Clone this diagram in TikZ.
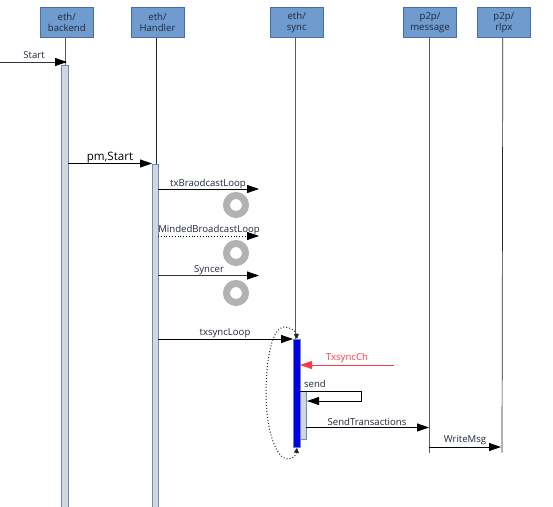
\documentclass[tikz,border=0pt]{standalone}
\usepackage{fontspec}
\setmainfont{Open Sans}
\usetikzlibrary{arrows.meta,positioning,calc}
\definecolor{boxA}{RGB}{112,155,207}
\definecolor{boxB}{RGB}{68,112,170}
\definecolor{barA}{RGB}{212,214,218}
\definecolor{barB}{RGB}{105,140,195}
\definecolor{syncA}{RGB}{0,0,225}
\definecolor{ringA}{RGB}{178,178,178}
\definecolor{redA}{RGB}{250,60,70}
\definecolor{textA}{RGB}{30,40,60}
\tikzset{
	pkgbox/.style={draw=boxB,fill=boxA,line width=0.9pt,minimum width=53pt,minimum height=30pt,inner sep=0pt,align=center,font=\fontsize{9.6}{10.5}\selectfont,text=textA},
	barbox/.style={draw=barB,fill=barA,line width=0.8pt,minimum width=6.4pt,inner sep=0pt,anchor=north},
	msgline/.style={line width=0.8pt,-{Triangle[length=12pt,width=8pt,black]}},
	msgtag/.style={inner sep=0pt,font=\fontsize{9.6}{11}\selectfont,text=textA},
	ringmark/.style={circle,draw=ringA,line width=7pt,minimum size=19pt,inner sep=0pt},
}
\newcommand{\pkgnode}[3]{\node[pkgbox] (#1) at (#2,22.5) {#3};}
\newcommand{\msgtext}[3]{\node[msgtag] (#1) at #2 {#3};}

\begin{document}
\begin{tikzpicture}[x=1pt,y=-1pt]
		\useasboundingbox (0,0) rectangle (553,506);
		\pkgnode{backend}{66.8}{eth/\\backend} \pkgnode{handler}{157.5}{eth/\\Handler} \pkgnode{sync}{296.7}{eth/\\sync}
		\pkgnode{message}{430}{p2p/\\message} \pkgnode{rlpx}{503.8}{p2p/\\rlpx}
		% activation bars
		\node[barbox,minimum height=450pt] (backendbar) at (65,64.5) {};
		\node[barbox,minimum height=350pt] (handlerbar) at (155.5,164) {};
		\node[barbox,minimum height=48pt] (sendbar) at (303,391) {};
		\node[barbox,fill=syncA,minimum height=108pt] (syncbar) at (297,339) {};
		% lifelines
		\coordinate (messageend) at (429,452.7);
		\coordinate (rlpxend) at (502,452.7);
		\draw[black!65,line width=0.8pt] ([xshift=-1pt]backend.south) -- ([xshift=-1pt]backend.south |- backendbar.north);
		\draw[black!85,line width=0.7pt] ([xshift=-1pt]handler.south) -- ([xshift=-1pt]handler.south |- handlerbar.north);
		\draw[black!65,line width=0.8pt] ([xshift=-1pt]sync.south) -- ([xshift=-1pt]sync.south |- syncbar.north);
		\draw[black!65,line width=0.8pt] ([xshift=-1pt]message.south) -- (messageend);
		\draw[black!85,line width=0.7pt] ([xshift=-1pt]rlpx.south) -- (rlpxend);
		% messages
		\coordinate (startfrom) at (0,62);
		\coordinate (startto) at (67,62);
		\draw[msgline,black!80] (startfrom) -- (startto);
		\msgtext{starttag}{(34,55)}{Start}
		\coordinate (pmfrom) at (68,163.5);
		\coordinate (pmto) at (152,163.5);
		\draw[msgline] (pmfrom) -- (pmto);
		\node[msgtag,font=\fontsize{11.6}{12}\selectfont,text=black] (pmtag) at (110,157.5) {pm,Start};
		\coordinate (txfrom) at (158,189);
		\coordinate (txto) at (259,189);
		\draw[msgline] (txfrom) -- (txto);
		\msgtext{txtag}{(208,184)}{txBraodcastLoop}
		\node[ringmark] (ringa) at (236,205) {};
		\coordinate (mindfrom) at (158,236);
		\coordinate (mindto) at (259,236);
		\draw[msgline,dotted] (mindfrom) -- (mindto);
		\msgtext{mindtag}{(209,230)}{MindedBroadcastLoop}
		\node[ringmark] (ringb) at (236,253) {};
		\coordinate (syncerfrom) at (158,275.5);
		\coordinate (syncerto) at (259,275.5);
		\draw[msgline,black!80] (syncerfrom) -- (syncerto);
		\msgtext{syncertag}{(209,270)}{Syncer}
		\node[ringmark] (ringc) at (236,293) {};
		\coordinate (loopfrom) at (158,339);
		\coordinate (loopto) at (293,339);
		\draw[msgline] (loopfrom) -- (loopto);
		\msgtext{looptag}{(225,333)}{txsyncLoop}
		% dotted loop round the sync bar
		\draw[black!85,dotted,line width=1pt,{Triangle[length=5pt,width=5pt]}-{Triangle[length=5pt,width=5pt]}] (syncbar.north) .. controls (296,331) and (290,327) .. (284,327) .. controls (272,327) and (266,360) .. (266,393) .. controls (266,430) and (276,459) .. (288,459) .. controls (292,459) and (296,456) .. (syncbar.south);
		% channel
		\coordinate (chanfrom) at (394,365);
		\coordinate (chanto) at (300,365);
		\draw[line width=0.8pt,redA,-{Triangle[length=12pt,width=8pt]}] (chanfrom) -- (chanto);
		\node[msgtag,text=redA] (chantag) at (347,358) {TxsyncCh};
		% send to itself
		\coordinate (sendfrom) at (300,391);
		\coordinate (sendto) at (307,401);
		\draw[msgline] (sendfrom) -- (361,391) -- (361,401) -- (sendto);
		\msgtext{sendtag}{(315,384)}{send}
		\coordinate (transfrom) at (306,427.5);
		\coordinate (transto) at (429,427.5);
		\draw[msgline] (transfrom) -- (transto);
		\msgtext{transtag}{(367,422)}{SendTransactions}
		\coordinate (writefrom) at (429,447);
		\coordinate (writeto) at (501,447);
		\draw[msgline] (writefrom) -- (writeto);
		\msgtext{writetag}{(465,440)}{WriteMsg}
\end{tikzpicture}
\end{document}
